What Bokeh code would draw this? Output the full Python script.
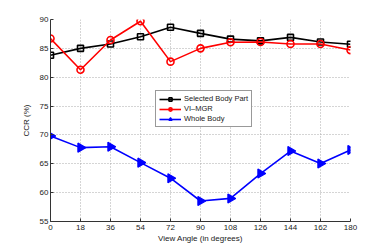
from bokeh.plotting import figure
from bokeh.models import Legend, LegendItem, FixedTicker, Range1d
from bokeh.embed import file_html
from bokeh.resources import INLINE

angles = [0, 18, 36, 54, 72, 90, 108, 126, 144, 162, 180]
selected_body_part = [83.8, 85.0, 85.75, 87.0, 88.65, 87.6, 86.6, 86.3, 86.9, 86.1, 85.7]
vi_mgr = [86.7, 81.3, 86.45, 89.7, 82.7, 85.0, 86.05, 86.1, 85.75, 85.75, 84.7]
whole_body = [69.8, 67.8, 67.95, 65.2, 62.5, 58.55, 59.0, 63.3, 67.2, 65.05, 67.4]
y_ticks = [55, 60, 65, 70, 75, 80, 85, 90]

FONT = "Liberation Sans"

p = figure(width=379, height=245, output_backend="svg", toolbar_location=None,
           x_range=Range1d(0, 180), y_range=Range1d(55, 90),
           min_border_left=50, min_border_right=29, min_border_top=19, min_border_bottom=24)
p.outline_line_color = None
p.background_fill_color = "white"
p.border_fill_color = "white"

for ax in (p.xaxis[0], p.yaxis[0]):
    ax.major_tick_in = 3
    ax.major_tick_out = 0
    ax.minor_tick_line_color = None
    ax.major_label_text_font = FONT
    ax.major_label_text_font_size = "8px"
    ax.major_label_text_color = "#222222"
    ax.axis_label_text_font = FONT
    ax.axis_label_text_font_size = "8px"
    ax.axis_label_text_font_style = "normal"
    ax.axis_label_text_color = "#222222"
    ax.axis_line_color = "#333333"
    ax.major_tick_line_color = "#333333"

p.xaxis.ticker = FixedTicker(ticks=angles)
p.yaxis.ticker = FixedTicker(ticks=y_ticks)
p.xaxis.axis_label = "View Angle (in degrees)"
p.yaxis.axis_label = "CCR (%)"
p.xaxis.major_label_standoff = 3
p.xaxis.axis_label_standoff = 1
p.yaxis.major_label_standoff = 2
p.yaxis.axis_label_standoff = 6

for g in (p.xgrid[0], p.ygrid[0]):
    g.grid_line_color = "#aaaaaa"
    g.grid_line_dash = "1 2"
    g.grid_line_width = 1

l1 = p.line(angles, selected_body_part, color="black", line_width=1.6)
s1 = p.scatter(angles, selected_body_part, marker="square", size=6, line_color="black",
               fill_alpha=0, line_width=1.6)
l2 = p.line(angles, vi_mgr, color="red", line_width=1.6)
s2 = p.scatter(angles, vi_mgr, marker="circle", size=7, line_color="red",
               fill_alpha=0, line_width=1.6)
l3 = p.line(angles, whole_body, color="blue", line_width=1.6)
s3 = p.scatter(angles, whole_body, marker="triangle", angle=-1.5708, size=9, line_color="blue",
               fill_color="blue", line_width=1.2)

legend = Legend(items=[
    LegendItem(label="Selected Body Part", renderers=[l1, s1]),
    LegendItem(label="VI\u2013MGR", renderers=[l2, s2]),
    LegendItem(label="Whole Body", renderers=[l3, s3]),
], location=(105, 94))
legend.label_text_font = FONT
legend.label_text_font_size = "7.5px"
legend.label_text_color = "#222222"
legend.label_height = 8
legend.label_standoff = 3
legend.glyph_height = 8
legend.glyph_width = 22
legend.spacing = 1
legend.padding = 3
legend.margin = 0
legend.border_line_color = "#333333"
legend.border_line_width = 1
legend.background_fill_alpha = 1
p.add_layout(legend)

open("out.html", "w").write(file_html(p, INLINE))
